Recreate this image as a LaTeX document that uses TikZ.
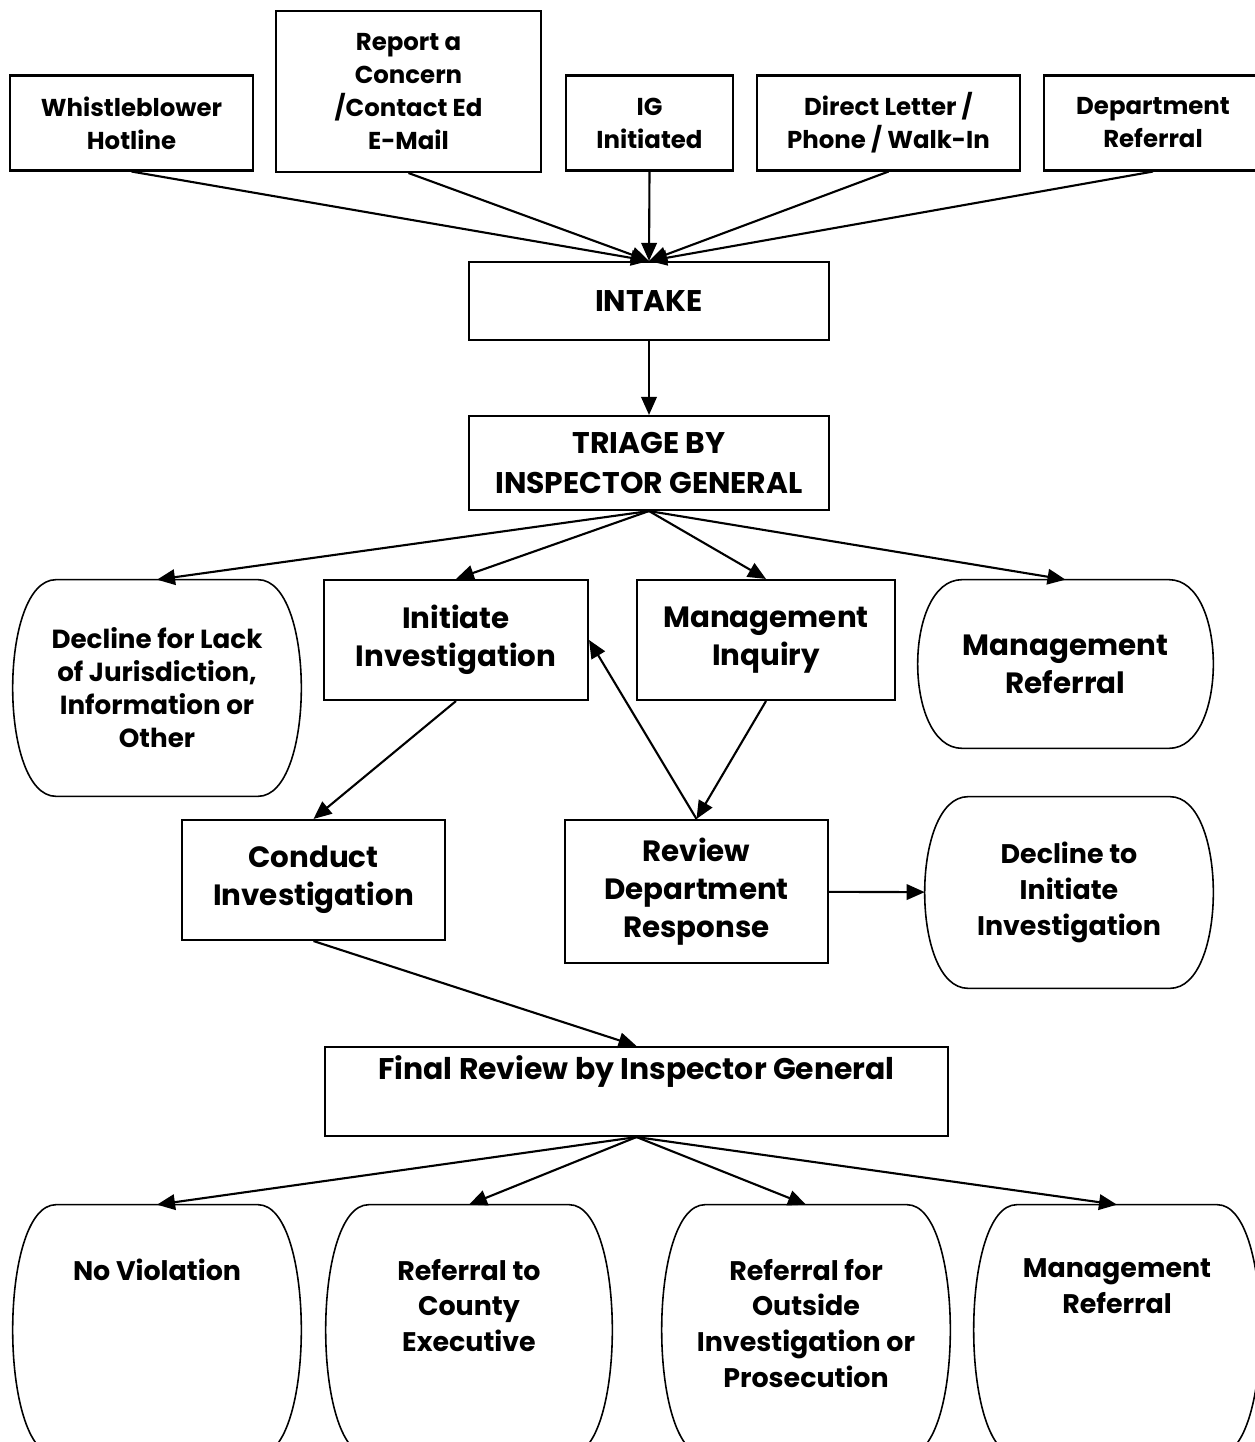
\documentclass[tikz,border=0pt]{standalone}
\usepackage{fontspec}
\setmainfont{Poppins}
\usetikzlibrary{arrows.meta,calc}
\tikzset{
  box/.style={draw, line width=1.2pt, align=center, inner sep=0pt},
  blob/.style={align=center, inner sep=0pt},
  link/.style={-{Triangle[length=3.6mm, width=3.1mm]}, line width=1.2pt},
  sm/.style={font=\bfseries\fontsize{13.9}{18.8}\selectfont},
  tight/.style={font=\bfseries\fontsize{14.9}{18.8}\selectfont},
  md/.style={font=\bfseries\fontsize{15.3}{20.4}\selectfont},
  lg/.style={font=\bfseries\fontsize{16.7}{21.8}\selectfont},
  caps/.style={font=\bfseries\fontsize{17}{22.7}\selectfont},
}
% outline with bulging sides round a named node
\newcommand\blobframe[1]{%
  \draw[line width=0.9pt] ($(#1.north west)!0.15!(#1.north east)$) -- ($(#1.north west)!0.85!(#1.north east)$)
    .. controls ($(#1.north east)!-0.05!(#1.north west)$) and ($(#1.south east)!-0.05!(#1.south west)$) .. ($(#1.south west)!0.85!(#1.south east)$)
    -- ($(#1.south west)!0.15!(#1.south east)$)
    .. controls ($(#1.south west)!-0.05!(#1.south east)$) and ($(#1.north west)!-0.05!(#1.north east)$) .. cycle;}
\newcommand\toptext[2]{\parbox[c][5cm][t]{#1}{\centering\vspace*{1.08cm}#2}}

\begin{document}
\begin{tikzpicture}[x=0.02cm, y=-0.02cm]
  \useasboundingbox (0,0) rectangle (1254,1442);
  % sources
  \node[box, sm, minimum width=4.86cm, minimum height=1.9cm] (whistle) at (131.5,123) {Whistleblower\\Hotline};
  \node[box, sm, minimum width=5.3cm, minimum height=3.22cm] (report) at (408.5,91.5) {Report a\\Concern\\/Contact Ed\\E-Mail};
  \node[box, sm, minimum width=3.34cm, minimum height=1.9cm] (igInit) at (649.5,123) {IG\\Initiated};
  \node[box, sm, minimum width=5.26cm, minimum height=1.9cm] (direct) at (888.5,123) {Direct Letter /\\Phone / Walk-In};
  \node[box, sm, minimum width=4.36cm, minimum height=1.9cm] (deptRef) at (1153,123) {Department\\Referral};
  % intake and triage
  \node[box, caps, minimum width=7.2cm, minimum height=1.56cm] (intake) at (649,301) {INTAKE};
  \node[box, caps, minimum width=7.2cm, minimum height=1.88cm] (triage) at (649,463) {TRIAGE BY\\INSPECTOR GENERAL};
  % triage outcomes
  \node[blob, tight, minimum width=5.76cm, minimum height=4.32cm] (declineLack) at (157,688) {Decline for Lack\\of Jurisdiction,\\Information or\\Other};
  \node[box, lg, minimum width=5.28cm, minimum height=2.4cm] (initiate) at (456,640) {Initiate\\Investigation};
  \node[box, lg, minimum width=5.16cm, minimum height=2.4cm] (mgmtInq) at (766,640) {Management\\Inquiry};
  \node[blob, lg, minimum width=5.9cm, minimum height=3.36cm] (mgmtRef) at (1065.5,664) {Management\\Referral};
  \node[box, lg, minimum width=5.26cm, minimum height=2.4cm] (conduct) at (313.5,880) {Conduct\\Investigation};
  \node[box, lg, minimum width=5.26cm, minimum height=2.86cm] (review) at (696.5,891.5) {Review\\Department\\Response};
  \node[blob, md, minimum width=5.76cm, minimum height=3.82cm] (declineInit) at (1069,892.5) {Decline to\\Initiate\\Investigation};
  % final review
  \node[box, caps, minimum width=12.46cm, text height=0.64cm, text depth=1.14cm] (final) at (636.5,1091.5) {Final Review by Inspector General};
  \node[blob, md, minimum width=5.76cm] (noViol) at (157,1330) {\toptext{5.6cm}{No Violation}};
  \node[blob, md, minimum width=5.72cm] (county) at (469,1330) {\toptext{5.6cm}{Referral to\\County\\Executive}};
  \node[blob, md, minimum width=5.76cm] (outside) at (806,1330) {\toptext{5.6cm}{Referral for\\Outside\\Investigation or\\Prosecution}};
  \node[blob, md, minimum width=5.72cm] (mgmtRefB) at (1117,1330) {\toptext{5.6cm}{Management\\Referral}};
  \foreach \b in {declineLack,mgmtRef,declineInit,noViol,county,outside,mgmtRefB}
    \blobframe{\b};
  % connectors
  \foreach \src in {whistle,report,igInit,direct,deptRef}
    \draw[link] (\src.south) -- (intake.north);
  \draw[link] (intake) -- (triage);
  \foreach \dst in {declineLack,initiate,mgmtInq,mgmtRef}
    \draw[link] (triage.south) -- (\dst.north);
  \draw[link] (initiate.south) -- (conduct.north);
  \draw[link] (mgmtInq.south) -- (review.north);
  \draw[link] (review.north) -- (initiate.east);
  \draw[link] (review) -- (declineInit);
  \draw[link] (conduct.south) -- (final.north);
  \foreach \dst in {noViol,county,outside,mgmtRefB}
    \draw[link] (final.south) -- (\dst.north);
\end{tikzpicture}
\end{document}
